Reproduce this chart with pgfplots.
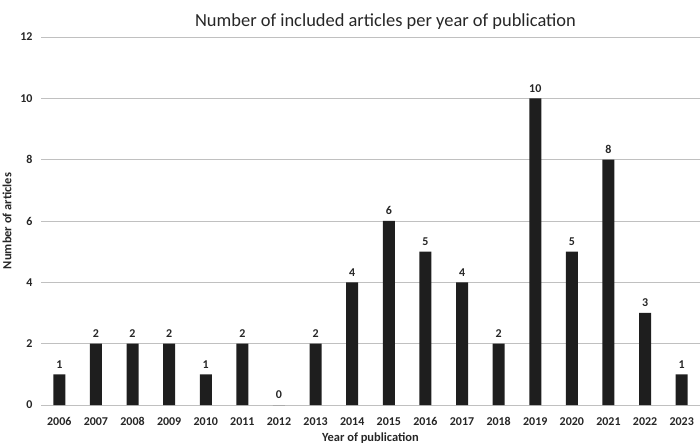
\documentclass[border=0pt]{standalone}
\usepackage{pgfplots}
\pgfplotsset{compat=1.18}
\usepackage{fontspec}
\setmainfont{Carlito}
\definecolor{barcol}{HTML}{1E1E1E}
\definecolor{gridcol}{HTML}{C0C0C0}
\definecolor{txtcol}{HTML}{262626}

\begin{document}
\begin{tikzpicture}
\path[use as bounding box] (-41bp,-43bp) rectangle (659bp,405bp);
\begin{axis}[
    at={(0,0)}, anchor=south west,
    scale only axis,
    width=659bp, height=368bp,
    ybar, bar width=12bp,
    xmin=-0.5, xmax=17.5,
    ymin=0, ymax=12,
    ytick={0,2,...,12},
    xtick={0,...,17},
    xticklabels={2006,2007,2008,2009,2010,2011,2012,2013,2014,2015,2016,2017,2018,2019,2020,2021,2022,2023},
    axis line style={draw=none},
    ymajorgrids, grid style={gridcol, line width=0.8pt},
    major tick length=0pt,
    tick label style={font=\fontsize{12}{13}\selectfont\bfseries, text=txtcol},
    /pgf/number format/assume math mode=true,
    yticklabel style={xshift=-5bp},
    xticklabel style={yshift=-9bp},
    xlabel={Year of publication},
    ylabel={Number of articles},
    label style={font=\fontsize{12.5}{13}\selectfont\bfseries, text=txtcol},
    xlabel style={yshift=0bp},
    ylabel style={yshift=2bp},
    title={Number of included articles per year of publication},
    title style={font=\fontsize{18.5}{20}\selectfont, text=txtcol, yshift=-2bp, xshift=15bp},
    nodes near coords,
    every node near coord/.append style={font=\fontsize{12}{13}\selectfont\bfseries, text=txtcol, yshift=2.5bp},
    clip=false,
]
\addplot[fill=barcol, draw=none] coordinates {
(0,1) (1,2) (2,2) (3,2) (4,1) (5,2) (6,0) (7,2) (8,4) (9,6)
(10,5) (11,4) (12,2) (13,10) (14,5) (15,8) (16,3) (17,1)
};
\end{axis}
\end{tikzpicture}
\end{document}
